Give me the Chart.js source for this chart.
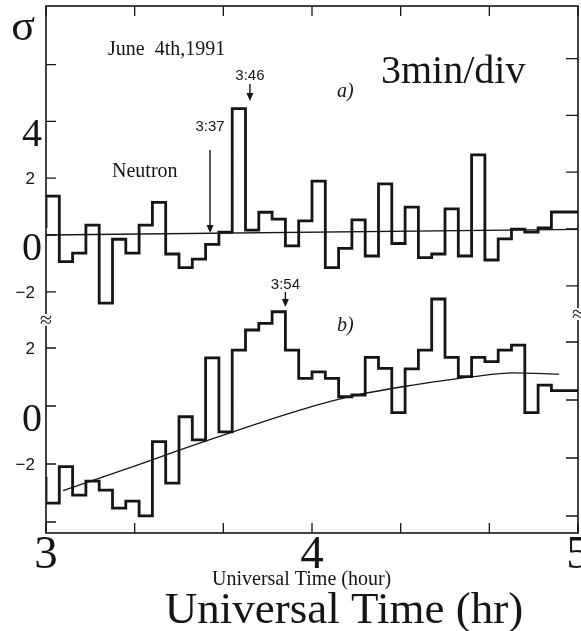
<!DOCTYPE html>
<html>
<head>
<meta charset="utf-8">
<script src="https://cdn.jsdelivr.net/npm/chart.js@4.4.0/dist/chart.umd.min.js"></script>
<style>
  html, body { margin: 0; padding: 0; background: #fff; }
</style>
</head>
<body>
<canvas id="grafica" width="581" height="631"></canvas>
<script>
// Bins de 3 minutos, de 3:00 a 5:00 UT
const inicioHoras = 3.0;
const anchoBin = 0.05; // 3 min en horas

// a) Neutrones, desviación en sigmas
const neutron = [0.25, 1.37, -0.94, -0.64, 0.35, -2.4, -0.15, -0.64, 0.35, 1.15,
                 -0.67, -1.15, -0.85, -0.33, 0.1, 4.45, 0.17, 0.8, 0.56, -0.38,
                 0.5, 1.9, -1.15, -0.47, 0.53, -0.74, 1.8, -0.3, 0.98, -0.8,
                 -0.67, 0.92, -0.74, 2.82, -0.88, -0.14, 0.21, 0.1, 0.25, 0.81];
// b) segundo canal
const canalB = [-2.44, -3.35, -2.09, -3.07, -2.59, -2.9, -3.52, -3.28, -3.79, -1.23,
                -2.66, -0.37, -1.17, 1.66, -0.89, 1.93, 2.62, 2.85, 3.25, 1.93,
                0.95, 1.18, 0.95, 0.32, 0.38, 1.68, 1.3, -0.23, 1.28, 1.93,
                3.69, 1.68, 1.01, 1.68, 1.53, 1.93, 2.1, -0.23, 0.72, 0.53];

// Curvas de ajuste (hora, valor)
const ajusteA = [[3.0, 0.0], [5.0, 0.2]];
const ajusteB = [[3.064, -2.92], [3.327, -2.09], [3.553, -1.36], [3.955, -0.14],
                 [4.17, 0.38], [4.38, 0.72], [4.605, 1.01], [4.756, 1.14], [4.929, 1.1]];

// Marcas de eje
const ticksA = [-2, 0, 2, 4, 6];
const etiquetasA = ['−2', '0', '2', '4', ''];
const ticksB = [-4, -2, 0, 2];
const etiquetasB = ['', '−2', '0', '2'];
const ticksHora = [3, 3 + 1 / 3, 3 + 2 / 3, 4, 4 + 1 / 3, 4 + 2 / 3, 5];
const etiquetasHora = ['3', '', '', '4', '', '', '5'];

// Flechas con la hora del evento
const eventos = [
  { hora: '3:46', eje: 'yA', texto: 5.46, cola: 5.32, punta: 4.72 },
  { hora: '3:37', eje: 'yA', texto: 3.66, cola: 2.99, punta: 0.07 },
  { hora: '3:54', eje: 'yB', texto: 4.03, cola: 3.93, punta: 3.41 }
];

const NEGRO = '#151515';
const SERIF = '"Liberation Serif", "Times New Roman", serif';
const SANS = '"Liberation Sans", Arial, sans-serif';

function aHoras(txt) {
  const [h, m] = txt.split(':').map(Number);
  return h + m / 60;
}

// Convierte los valores de cada bin a puntos para la línea escalonada
function escalones(valores) {
  const pts = valores.map((v, i) => ({ x: inicioHoras + i * anchoBin, y: v }));
  pts.push({ x: inicioHoras + valores.length * anchoBin, y: valores[valores.length - 1] });
  return pts;
}

function texto(ctx, t, x, y, font, align) {
  ctx.font = font;
  ctx.textAlign = align || 'left';
  ctx.textBaseline = 'alphabetic';
  ctx.fillText(t, x, y);
}

// --- Marco, ticks hacia adentro y textos ---
const marco = {
  id: 'marco',
  afterDatasetsDraw(chart) {
    const { ctx, chartArea: a, scales } = chart;
    const { x, yA, yB } = scales;
    ctx.save();
    ctx.strokeStyle = NEGRO;
    ctx.fillStyle = NEGRO;
    ctx.lineWidth = 1.6;
    ctx.strokeRect(a.left, a.top, a.right - a.left, a.bottom - a.top);

    // ticks verticales
    ctx.lineWidth = 1.3;
    ctx.beginPath();
    [[yA, ticksA], [yB, ticksB]].forEach(([esc, vals]) => {
      vals.forEach(v => {
        const py = esc.getPixelForValue(v);
        ctx.moveTo(a.left, py); ctx.lineTo(a.left + 10, py);
        ctx.moveTo(a.right, py - 6); ctx.lineTo(a.right - 12, py - 6);
      });
    });
    ticksHora.forEach(h => {
      const px = x.getPixelForValue(h);
      ctx.moveTo(px, a.top); ctx.lineTo(px, a.top + 10);
      ctx.moveTo(px, a.bottom); ctx.lineTo(px, a.bottom - 10);
    });
    ctx.stroke();

    // corte del eje entre paneles
    [[a.left, 320], [a.right, 314]].forEach(([bx, by]) => {
      ctx.fillStyle = '#fff';
      ctx.fillRect(bx - 3, by - 6, 6, 12);
      ctx.fillStyle = NEGRO;
      texto(ctx, '≈', bx, by + 7, '22px ' + SERIF, 'center');
    });

    // etiquetas eje y
    const dibujaY = (esc, vals, etqs) => {
      vals.forEach((v, i) => {
        const t = etqs[i];
        if (!t) return;
        const py = esc.getPixelForValue(v);
        if (t === '0' || t === '4') {
          texto(ctx, t, a.left - 4, py + 25, '40px ' + SERIF, 'right');
        } else {
          texto(ctx, t, a.left - 11, py + 6, '17px ' + SANS, 'right');
        }
      });
    };
    dibujaY(yA, ticksA, etiquetasA);
    dibujaY(yB, ticksB, etiquetasB);

    // etiquetas eje x
    ticksHora.forEach((h, i) => {
      if (etiquetasHora[i]) {
        texto(ctx, etiquetasHora[i], x.getPixelForValue(h), 568, '47px ' + SERIF, 'center');
      }
    });

    // flechas
    ctx.lineWidth = 1.4;
    eventos.forEach(ev => {
      const esc = scales[ev.eje];
      const px = x.getPixelForValue(aHoras(ev.hora));
      const yCola = esc.getPixelForValue(ev.cola);
      const yPunta = esc.getPixelForValue(ev.punta);
      ctx.beginPath();
      ctx.moveTo(px, yCola); ctx.lineTo(px, yPunta - 6);
      ctx.stroke();
      ctx.beginPath();
      ctx.moveTo(px - 3.5, yPunta - 8); ctx.lineTo(px + 3.5, yPunta - 8); ctx.lineTo(px, yPunta);
      ctx.closePath(); ctx.fill();
      texto(ctx, ev.hora, px, esc.getPixelForValue(ev.texto), '15px ' + SANS, 'center');
    });

    // textos del panel
    texto(ctx, 'σ', 23, 40, '44px ' + SERIF, 'center');
    texto(ctx, 'June  4th,1991', 108, 55, '20px ' + SERIF);
    texto(ctx, 'Neutron', 112, 177, '20px ' + SERIF);
    texto(ctx, '3min/div', 381, 83, '40px ' + SERIF);
    texto(ctx, 'a)', 337, 97, 'italic 20px ' + SERIF);
    texto(ctx, 'b)', 337, 331, 'italic 20px ' + SERIF);
    texto(ctx, 'Universal Time (hour)', 212, 585, '20px ' + SERIF);
    texto(ctx, 'Universal Time (hr)', 344, 623, '45px ' + SERIF, 'center');
    ctx.restore();
  }
};

const ctx = document.getElementById('grafica');
new Chart(ctx, {
  type: 'line',
  data: {
    datasets: [
      { data: escalones(neutron), yAxisID: 'yA', stepped: 'after', borderWidth: 2.8 },
      { data: ajusteA.map(([h, v]) => ({ x: h, y: v })), yAxisID: 'yA', borderWidth: 1.3 },
      { data: escalones(canalB), yAxisID: 'yB', stepped: 'after', borderWidth: 2.8 },
      { data: ajusteB.map(([h, v]) => ({ x: h, y: v })), yAxisID: 'yB', borderWidth: 1.3,
        cubicInterpolationMode: 'monotone' }
    ].map(d => Object.assign({ borderColor: NEGRO, pointRadius: 0, fill: false }, d))
  },
  options: {
    responsive: false,
    animation: false,
    devicePixelRatio: 1,
    layout: { padding: { left: 46, top: 6, right: 3, bottom: 98 } },
    plugins: { legend: { display: false }, tooltip: { enabled: false } },
    scales: {
      x: { type: 'linear', min: 3, max: 5, display: false },
      // panel superior: 0 en y=235, 28.4 px por sigma
      yA: { type: 'linear', min: -10.493, max: 8.063, display: false },
      // panel inferior: 0 en y=406, 29 px por sigma
      yB: { type: 'linear', min: -4.379, max: 13.793, display: false }
    }
  },
  plugins: [marco]
});
</script>
</body>
</html>
